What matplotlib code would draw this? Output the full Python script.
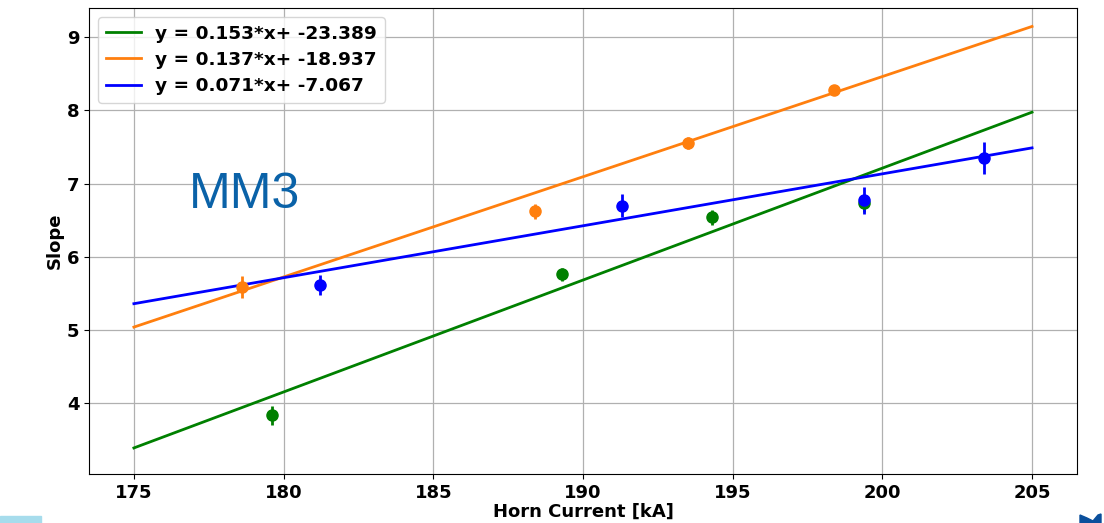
import numpy as np
import matplotlib
matplotlib.use("Agg")
import matplotlib.pyplot as plt
from matplotlib.patches import Rectangle, Polygon

# Measured slopes per horn current, with uncertainties
green_x = [179.6, 189.3, 194.3, 199.4]
green_y = [3.83, 5.76, 6.54, 6.73]
green_err = [0.13, 0.09, 0.10, 0.12]

orange_x = [178.6, 188.4, 193.5, 198.4]
orange_y = [5.58, 6.62, 7.55, 8.28]
orange_err = [0.15, 0.10, 0.08, 0.05]

blue_x = [181.2, 191.3, 199.4, 203.4]
blue_y = [5.61, 6.70, 6.77, 7.35]
blue_err = [0.14, 0.16, 0.18, 0.22]

# Linear fit coefficients (slope, intercept)
fits = [
    ("green", 0.153, -23.389),
    ("#ff7f0e", 0.137, -18.937),
    ("blue", 0.071, -7.067),
]
fit_range = [175, 205]

fig = plt.figure(figsize=(11.04, 5.23), dpi=100)
ax = fig.add_axes([0.0806, 0.0937, 0.8949, 0.891])

xs = np.array(fit_range, dtype=float)
for color, m, b in fits:
    ax.plot(xs, m * xs + b, color=color, lw=2,
            label=f"y = {m:.3f}*x+ {b:.3f}")

for xv, yv, ev, c in [(green_x, green_y, green_err, "green"),
                      (orange_x, orange_y, orange_err, "#ff7f0e"),
                      (blue_x, blue_y, blue_err, "blue")]:
    ax.errorbar(xv, yv, yerr=ev, fmt="o", color=c, ms=8, elinewidth=2,
                capsize=0)

ax.grid(True, color="#b0b0b0", lw=0.9)
ax.set_xlim(173.5, 206.5)
ax.set_ylim(3.03, 9.4)
ax.set_xticks([175, 180, 185, 190, 195, 200, 205])
ax.set_yticks([4, 5, 6, 7, 8, 9])
for lab in ax.get_xticklabels() + ax.get_yticklabels():
    lab.set_fontweight("bold")
    lab.set_fontsize(13)
ax.set_xlabel("Horn Current [kA]", fontsize=13, fontweight="bold", labelpad=1)
ax.set_ylabel("Slope", fontsize=13, fontweight="bold", labelpad=2)

leg = ax.legend(loc="upper left", prop={"weight": "bold", "size": 13.3},
                handlelength=1.9, labelspacing=0.45, borderaxespad=0.5)

ax.text(176.85, 6.85, "MM3", fontsize=36, color="#0a62a8",
        family="Liberation Sans", va="center", ha="left")

# Slide decorations along the bottom edge
fig.patches.append(Rectangle((0, 0), 41 / 1104, 7 / 523,
                             transform=fig.transFigure,
                             color="#a6dcec", zorder=0))
fig.patches.append(Polygon([(1080 / 1104, 0), (1080 / 1104, 8 / 523),
                            (1087 / 1104, 5 / 523), (1093 / 1104, 2 / 523),
                            (1098 / 1104, 8 / 523), (1101 / 1104, 9 / 523),
                            (1101 / 1104, 0)],
                           closed=True, transform=fig.transFigure,
                           color="#0a4f9c", zorder=0))

fig.savefig("out.png", dpi=100)
